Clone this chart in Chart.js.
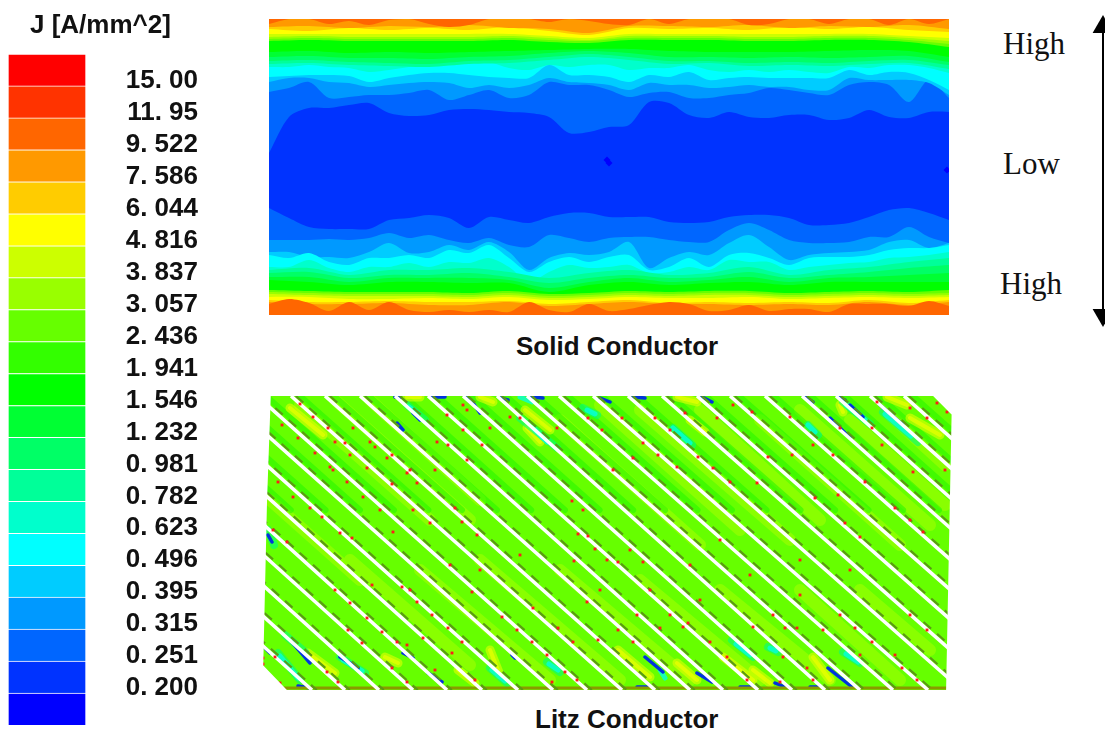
<!DOCTYPE html>
<html>
<head>
<meta charset="utf-8">
<title>Current density</title>
<script src="https://cdn.jsdelivr.net/npm/chart.js@4/dist/chart.umd.js"></script>
<style>
  html, body { margin: 0; padding: 0; background: #fff; width: 1105px; height: 733px; overflow: hidden; }
  canvas, .txt { position: absolute; }
  #legendChart { left: 0; top: 0; }
  #solidChart { left: 269px; top: 19px; filter: blur(0.6px); }
  #litzChart { left: 260px; top: 396px; filter: blur(0.5px); }
  #arrowChart { left: 1085px; top: 0; }
  .txt { white-space: nowrap; color: #111; }
  .cap { font: bold 26px "Liberation Sans", Arial, sans-serif; }
  .side { font: 31px "Liberation Serif", "Times New Roman", serif; }
</style>
</head>
<body>
<canvas id="legendChart" width="205" height="733"></canvas>
<canvas id="solidChart" width="680" height="296"></canvas>
<canvas id="litzChart" width="700" height="294"></canvas>
<canvas id="arrowChart" width="20" height="340"></canvas>
<div class="txt cap" style="left:30px;top:9px">J [A/mm^2]</div>
<div class="txt cap" style="left:516px;top:331px">Solid Conductor</div>
<div class="txt cap" style="left:535px;top:704px">Litz Conductor</div>
<div class="txt side" style="left:1003px;top:26px">High</div>
<div class="txt side" style="left:1003px;top:146px">Low</div>
<div class="txt side" style="left:1000px;top:266px">High</div>
<script>
// Colour scale, top to bottom
const legendColors = ['#ff0000', '#ff3300', '#ff6600', '#ff9900', '#ffcc00', '#ffff00', '#ccff00', '#99ff00', '#66ff00', '#33ff00', '#00ff00',
    '#00ff33', '#00ff66', '#00ff99', '#00ffcc', '#00ffff', '#00ccff', '#0099ff', '#0066ff', '#0033ff', '#0000ff'];
const legendLabels = ['15. 00', '11. 95', '9. 522', '7. 586', '6. 044', '4. 816', '3. 837', '3. 057', '2. 436', '1. 941',
    '1. 546', '1. 232', '0. 981', '0. 782', '0. 623', '0. 496', '0. 395', '0. 315', '0. 251', '0. 200'];

// Solid conductor: depth of each colour contour along the width
const fineX = [0, 20, 40, 60, 80, 100, 120, 140, 160, 180, 200, 220, 240, 260, 280, 300, 320, 340, 360, 380, 400, 420, 440, 460, 480, 500, 520, 540, 560, 580, 600, 620, 640, 660, 680];
const coarseX = [0, 40, 80, 120, 160, 200, 240, 280, 320, 360, 400, 440, 480, 520, 560, 600, 640, 680];

const topBlue1 = [134, 98, 89, 89, 86, 84, 94, 97, 96, 91, 90, 91, 93, 94, 98, 114, 113, 108, 106, 83, 84, 96, 99, 93, 98, 99, 96, 96, 101, 99, 91, 98, 99, 93, 93];
const topBlue2 = [73, 69, 63, 79, 78, 76, 76, 74, 71, 81, 76, 71, 79, 76, 63, 66, 66, 71, 78, 74, 73, 79, 79, 76, 74, 69, 71, 74, 76, 66, 63, 66, 83, 61, 79];
const topBlue3 = [63, 59, 59, 63, 64, 68, 66, 64, 63, 64, 69, 66, 69, 66, 59, 63, 64, 66, 71, 64, 66, 66, 69, 68, 66, 68, 68, 71, 71, 59, 61, 61, 61, 64, 76];
const topCyan = [58, 57, 56, 56, 57, 63, 59, 56, 54, 54, 56, 58, 59, 59, 46, 56, 56, 58, 63, 56, 58, 53, 61, 59, 58, 59, 59, 59, 59, 51, 56, 53, 54, 61, 71];
const topTeal = [48, 48, 46, 48, 49, 53, 51, 48, 46, 44, 41, 43, 49, 51, 46, 48, 46, 46, 51, 49, 49, 46, 51, 53, 51, 53, 51, 53, 54, 48, 49, 46, 46, 49, 54];
const topSpring3 = [45, 44, 46, 47, 48, 45, 44, 41, 38, 41, 45, 44, 47, 46, 47, 45, 44, 50];
const topSpring2 = [42, 41, 43, 44, 45, 42, 41, 38, 35, 38, 42, 42, 44, 43, 44, 42, 41, 46];
const topSpring1 = [38, 37, 39, 39, 40, 38, 37, 34, 32, 34, 38, 38, 39, 38, 39, 38, 37, 43];
const topGreen = [33, 32, 34, 33, 34, 33, 32, 31, 30, 30, 32, 33, 33, 33, 32, 31, 32, 38];
const topLime2 = [22, 21, 22, 22, 22, 22, 21, 23, 24, 21, 21, 21, 22, 22, 21, 21, 23, 28];
const topLime1 = [20, 19, 20, 20, 20, 20, 19, 21, 22, 19, 19, 19, 20, 20, 19, 19, 21, 25];
const topChart = [18, 17, 18, 18, 18, 18, 17, 19, 21, 17, 17, 17, 18, 18, 17, 17, 19, 22];
const topYellow = [15, 15, 15, 15, 15, 15, 15, 17, 19, 15, 15, 15, 15, 15, 15, 15, 17, 19];
const topGold = [10, 12, 9, 11, 9, 11, 8, 12, 16, 9, 10, 9, 11, 8, 10, 8, 11, 13];
const topAmber = [8, 7, 9, 7, 8, 6, 9, 10, 14, 7, 7, 8, 6, 9, 7, 8, 6, 10];
const topOrange = [5, 0, 0, 5, 2, 6, 1, 0, 5, 8, 6, 0, 0, 0, 3, 0, 2, 5, 6, 0, 5, 0, 0, 0, 6, 5, 0, 0, 5, 0, 0, 6, 0, 5, 0];

const botBlue1 = [189, 199, 208, 210, 210, 210, 201, 199, 196, 199, 209, 198, 201, 204, 198, 194, 194, 198, 198, 198, 203, 204, 203, 198, 196, 196, 199, 206, 206, 204, 198, 191, 189, 194, 201];
const botBlue2 = [221, 221, 221, 220, 221, 219, 214, 219, 216, 221, 224, 219, 226, 228, 216, 219, 223, 219, 218, 218, 221, 223, 223, 211, 204, 211, 221, 224, 224, 223, 218, 218, 208, 218, 224];
const botBlue3 = [233, 233, 238, 238, 239, 233, 224, 234, 233, 226, 231, 223, 233, 251, 239, 234, 236, 233, 223, 249, 239, 233, 236, 224, 216, 228, 241, 236, 234, 233, 231, 223, 221, 229, 224];
const botCyan = [236, 239, 234, 243, 246, 239, 239, 236, 239, 231, 234, 226, 239, 253, 243, 238, 243, 238, 236, 251, 248, 239, 248, 236, 234, 239, 246, 239, 238, 238, 236, 231, 229, 229, 226];
const botTeal = [248, 248, 241, 249, 253, 248, 248, 244, 248, 243, 244, 239, 248, 263, 253, 246, 249, 248, 246, 254, 253, 248, 251, 241, 243, 243, 251, 248, 246, 244, 243, 239, 238, 236, 233];
const botSpring3 = [251, 249, 256, 251, 251, 249, 253, 259, 254, 251, 256, 254, 248, 256, 251, 248, 243, 239];
const botSpring2 = [254, 253, 259, 256, 256, 254, 258, 264, 259, 256, 259, 258, 253, 259, 256, 253, 249, 246];
const botSpring1 = [258, 258, 263, 259, 259, 259, 261, 269, 263, 259, 263, 261, 258, 263, 259, 258, 256, 254];
const botGreen = [261, 263, 266, 263, 263, 264, 264, 273, 266, 263, 266, 264, 263, 266, 263, 263, 263, 263];
const botLime2 = [271, 272, 273, 273, 273, 274, 272, 275, 274, 272, 273, 272, 272, 274, 273, 272, 273, 271];
const botLime1 = [273, 274, 275, 275, 275, 276, 274, 277, 276, 274, 275, 274, 274, 276, 275, 274, 275, 274];
const botChart = [275, 276, 277, 277, 277, 278, 276, 279, 278, 276, 277, 276, 276, 278, 277, 276, 277, 276];
const botYellow = [278, 278, 280, 280, 279, 280, 278, 281, 280, 278, 279, 279, 278, 280, 279, 278, 279, 278];
const botGold = [281, 283, 283, 282, 283, 283, 282, 285, 283, 281, 284, 283, 284, 283, 284, 281, 284, 281];
const botAmber = [283, 285, 285, 284, 286, 286, 283, 287, 285, 283, 285, 285, 286, 285, 286, 283, 286, 283];
const botOrange = [285, 280, 284, 292, 283, 291, 283, 291, 293, 291, 293, 291, 293, 283, 291, 293, 285, 292, 290, 286, 283, 285, 292, 291, 286, 292, 290, 290, 293, 285, 285, 285, 287, 282, 287];

// Small darker spots in the solid conductor core
const coreSpotX = [338, 678, 340];
const coreSpotY = [141, 151, 144];

// Litz conductor: where each white gap meets the top and bottom edge
const gapTopX = [-15, 19, 53, 87, 121, 155, 189, 223, 257, 291, 325, 360, 395, 428, 463, 497, 527, 559, 593, 628, 662, 697, 730, 765, 802, 836, 870, 904];
const gapBottomX = [312, 345, 379, 413, 447, 482, 518, 553, 587, 622, 655, 690, 723, 758, 792, 825, 860, 893, 928, 962, 996, 1030, 1064, 1098, 1132, 1166, 1200, 1234];

// Colour patches on the strands: x1, y1, x2, y2
const tintPatches = [[300, 405, 430, 520], [335, 400, 470, 520], [370, 400, 480, 500], [560, 420, 700, 545], [600, 405, 740, 530], [640, 410, 790, 540],
    [700, 410, 820, 520], [760, 420, 900, 545], [800, 410, 930, 525], [850, 420, 945, 505], [890, 415, 945, 465], [270, 500, 360, 580],
    [350, 560, 470, 665], [420, 570, 550, 680], [480, 560, 620, 680], [560, 570, 690, 680], [640, 580, 760, 680], [720, 590, 830, 680], [800, 590, 900, 680], [860, 590, 930, 650]];
const yellowPatches = [[527, 428, 540, 442], [525, 410, 550, 430], [677, 397, 697, 402], [290, 408, 323, 435], [407, 397, 420, 397], [480, 397, 493, 402], [887, 397, 907, 405],
    [910, 418, 940, 435], [840, 405, 843, 412], [618, 650, 650, 677], [677, 663, 697, 680], [723, 657, 753, 680], [753, 670, 770, 683], [813, 657, 830, 680],
    [308, 653, 335, 673], [385, 657, 398, 663], [458, 670, 475, 683], [490, 650, 500, 675], [690, 420, 705, 432]];
const springPatches = [[520, 418, 557, 448], [583, 408, 597, 415], [407, 405, 425, 420], [808, 425, 818, 435], [843, 402, 870, 424], [883, 412, 918, 442],
    [732, 640, 753, 657], [768, 647, 778, 652], [843, 652, 860, 663], [547, 662, 560, 672], [490, 668, 507, 683], [278, 653, 300, 680], [285, 635, 305, 652], [340, 657, 365, 673], [673, 428, 692, 445], [268, 530, 274, 545]];
const cyanPatches = [[533, 428, 547, 442], [673, 428, 690, 443], [587, 410, 595, 414], [409, 407, 417, 413], [808, 425, 815, 432], [846, 405, 865, 420], [885, 414, 911, 436],
    [736, 644, 750, 655], [770, 648, 776, 651], [846, 654, 858, 662], [549, 664, 558, 670], [660, 670, 665, 678], [280, 656, 298, 678], [343, 660, 362, 671], [492, 670, 505, 681], [520, 397, 532, 402]];
const bluePatches = [[397, 423, 403, 430], [430, 397, 445, 397], [395, 397, 400, 398], [465, 397, 470, 402], [473, 403, 480, 413], [413, 413, 420, 420], [268, 535, 272, 542],
    [500, 398, 508, 400], [532, 397, 543, 398], [600, 398, 610, 402], [633, 397, 645, 398], [702, 397, 712, 402], [805, 397, 813, 402], [830, 418, 850, 438],
    [838, 397, 845, 400], [850, 405, 863, 417], [880, 405, 903, 425], [645, 657, 663, 672], [697, 673, 712, 682], [775, 683, 785, 687], [828, 668, 852, 687],
    [637, 687, 650, 687], [512, 655, 515, 658], [740, 687, 752, 687], [810, 687, 820, 687], [292, 642, 310, 663], [340, 657, 358, 668], [403, 653, 413, 658],
    [428, 673, 442, 682], [298, 686, 310, 688], [265, 648, 270, 653]];

// Red edge dots along the gaps
const redDotX = [300, 313, 328, 353, 335, 345, 282, 298, 315, 330, 350, 370, 375, 392, 367, 387, 407, 410, 417, 437, 448, 447, 463, 467, 463, 490, 482, 467, 435, 455, 430, 413, 392, 363, 347, 333, 278, 293, 310, 322, 340, 352, 380, 393, 462, 477, 287, 273,
    840, 813, 833, 882, 913, 945, 865, 838, 815, 895, 910, 845, 860, 923, 872, 877, 910, 927, 937, 947,
    510, 520, 557, 588, 602, 622, 643, 658, 633, 613, 655, 670, 685, 717, 733, 752, 790, 768, 792, 677, 698, 713, 730, 757,
    502, 517, 532, 547, 565, 577, 552, 533, 558, 573, 587, 598, 618, 633, 637, 660, 670, 683, 688, 710, 727, 747, 753, 773, 785, 797, 823, 840, 855, 872, 895, 902, 917, 910, 927, 780, 813, 783, 807, 860,
    335, 350, 367, 348, 362, 327, 338, 275, 280, 392, 407, 372, 382, 397, 407, 423, 435, 402, 417, 432, 452, 462, 475, 448, 472, 263, 263,
    572, 583, 578, 588, 595, 630, 643, 618, 607, 574, 690, 720, 750, 800, 850, 480, 520, 450, 410, 650, 700, 600, 800];
const redDotY = [404, 417, 428, 428, 442, 443, 425, 438, 453, 467, 455, 442, 447, 455, 468, 458, 473, 470, 483, 442, 445, 415, 405, 410, 430, 428, 445, 460, 470, 508, 523, 510, 484, 497, 482, 470, 482, 497, 508, 517, 533, 538, 510, 532, 522, 535, 542, 530,
    428, 445, 455, 445, 472, 470, 482, 495, 498, 508, 520, 523, 537, 532, 428, 402, 408, 418, 403, 412,
    417, 418, 428, 418, 430, 418, 443, 455, 458, 470, 418, 430, 413, 418, 405, 412, 417, 457, 455, 467, 457, 468, 482, 483,
    617, 630, 642, 655, 672, 680, 682, 608, 628, 642, 602, 640, 630, 642, 615, 628, 615, 627, 623, 642, 657, 680, 627, 615, 628, 628, 630, 615, 628, 642, 655, 668, 680, 615, 630, 682, 680, 657, 668, 655,
    590, 603, 618, 630, 643, 672, 682, 657, 683, 668, 682, 585, 632, 642, 645, 638, 670, 587, 602, 615, 653, 642, 680, 628, 592, 658, 664,
    501, 510, 534, 536, 549, 550, 562, 562, 560, 561, 565, 540, 575, 560, 570, 570, 555, 565, 590, 590, 600, 590, 595];

// Bitmap edge of the litz block and its two cut corners: x1, y1, x2, y2
const frameMask = [[264, 389, 260, 502], [260, 502, 256, 676], [258, 670, 282, 695], [262, 680, 272, 696], [936, 389, 959, 412], [950, 390, 960, 400], [959, 395, 953, 695]];
const arrowY = [27, 315];

const chartDefaults = {
    responsive: false,
    animation: false,
    events: [],
    layout: { autoPadding: false, padding: 0 },
    plugins: { legend: { display: false }, tooltip: { enabled: false } }
};

// Legend bar
new Chart(document.getElementById('legendChart'), {
    type: 'bar',
    data: {
        labels: ['J'],
        datasets: legendColors.slice().reverse().map(color => ({
            data: [1],
            backgroundColor: color,
            borderColor: '#ffffff',
            borderWidth: 1,
            barPercentage: 1,
            categoryPercentage: 1
        }))
    },
    options: {
        ...chartDefaults,
        layout: { autoPadding: false, padding: { left: 8, top: 54, bottom: 8, right: 7 } },
        scales: {
            x: { stacked: true, display: false },
            y: {
                stacked: true,
                position: 'right',
                min: 0,
                max: legendColors.length,
                afterFit: scale => {
                    scale.width = 112;
                    scale.paddingTop = 0;
                    scale.paddingBottom = 0;
                },
                grid: { display: false },
                border: { display: false },
                ticks: {
                    stepSize: 1,
                    autoSkip: false,
                    crossAlign: 'far',
                    padding: 0,
                    labelOffset: -5,
                    color: '#111111',
                    font: { family: '"Liberation Sans", Arial, sans-serif', size: 26, weight: 'bold' },
                    callback: value => legendLabels[legendColors.length - 1 - value] || ''
                }
            }
        }
    }
});

// Solid conductor contours
function contour(xs, depths, color, edge) {
    return {
        data: xs.map((x, i) => ({ x: x, y: depths[i] })),
        backgroundColor: color,
        fill: { value: edge },
        borderWidth: 0,
        pointRadius: 0,
        tension: 0.3
    };
}

const solidLayers = [
    contour(fineX, fineX.map(() => 296), '#0033ff', 0),
    contour(fineX, topBlue1, '#0066ff', 0),
    contour(fineX, topBlue2, '#0099ff', 0),
    contour(fineX, topBlue3, '#00ccff', 0),
    contour(fineX, topCyan, '#00ffff', 0),
    contour(fineX, topTeal, '#00ffcc', 0),
    contour(coarseX, topSpring3, '#00ff99', 0),
    contour(coarseX, topSpring2, '#00ff66', 0),
    contour(coarseX, topSpring1, '#00ff33', 0),
    contour(coarseX, topGreen, '#00ff00', 0),
    contour(coarseX, topLime2, '#66ff00', 0),
    contour(coarseX, topLime1, '#99ff00', 0),
    contour(coarseX, topChart, '#ccff00', 0),
    contour(coarseX, topYellow, '#ffff00', 0),
    contour(coarseX, topGold, '#ffcc00', 0),
    contour(coarseX, topAmber, '#ff9900', 0),
    contour(fineX, topOrange, '#ff6600', 0),
    contour(fineX, botBlue1, '#0066ff', 296),
    contour(fineX, botBlue2, '#0099ff', 296),
    contour(fineX, botBlue3, '#00ccff', 296),
    contour(fineX, botCyan, '#00ffff', 296),
    contour(fineX, botTeal, '#00ffcc', 296),
    contour(coarseX, botSpring3, '#00ff99', 296),
    contour(coarseX, botSpring2, '#00ff66', 296),
    contour(coarseX, botSpring1, '#00ff33', 296),
    contour(coarseX, botGreen, '#00ff00', 296),
    contour(coarseX, botLime2, '#66ff00', 296),
    contour(coarseX, botLime1, '#99ff00', 296),
    contour(coarseX, botChart, '#ccff00', 296),
    contour(coarseX, botYellow, '#ffff00', 296),
    contour(coarseX, botGold, '#ffcc00', 296),
    contour(coarseX, botAmber, '#ff9900', 296),
    contour(fineX, botOrange, '#ff6600', 296),
    {
        data: coreSpotX.map((x, i) => ({ x: x, y: coreSpotY[i] })),
        showLine: false,
        pointStyle: 'rectRot',
        pointRadius: 3.5,
        pointBorderWidth: 0,
        pointBackgroundColor: '#0000ff'
    }
];

new Chart(document.getElementById('solidChart'), {
    type: 'line',
    // first dataset is drawn on top, so hand them over reversed
    data: { datasets: solidLayers.slice().reverse() },
    options: {
        ...chartDefaults,
        scales: {
            x: { type: 'linear', min: 0, max: 680, display: false },
            y: { min: 0, max: 296, reverse: true, display: false }
        }
    }
});

// Litz conductor strands
function segments(list) {
    return list.flatMap(s => [{ x: s[0], y: s[1] }, { x: s[2], y: s[3] }, { x: s[2], y: null }]);
}

function stroke(data, color, width, extra) {
    return {
        data: data,
        borderColor: color,
        borderWidth: width,
        borderCapStyle: 'round',
        pointRadius: 0,
        spanGaps: false,
        clip: 0,
        ...extra
    };
}

function gapLines(shift, bottomY) {
    return gapTopX.flatMap((top, i) => {
        const slope = (gapBottomX[i] - top) / 294;
        return [{ x: top + shift, y: 396 }, { x: top + shift + slope * (bottomY - 396), y: bottomY }, { x: top, y: null }];
    });
}

const litzLayers = [
    { data: [{ x: 260, y: 690 }, { x: 960, y: 690 }], backgroundColor: '#66ff00', fill: { value: 396 }, borderWidth: 0, pointRadius: 0 },
    stroke(segments(tintPatches), 'rgba(160,255,0,0.6)', 12),
    stroke(gapLines(9, 510), 'rgba(34,245,0,0.55)', 6),
    stroke(segments(yellowPatches), 'rgba(225,255,0,0.6)', 9),
    stroke(segments(yellowPatches), 'rgba(255,255,0,0.5)', 4),
    stroke(segments(springPatches), 'rgba(0,255,120,0.6)', 8),
    stroke(segments(cyanPatches), 'rgba(0,255,235,0.75)', 5),
    stroke(segments(bluePatches), '#0033dd', 3.5),
    stroke([{ x: 260, y: 688 }, { x: 960, y: 688 }], '#8a9a00', 3),
    stroke(gapLines(4.8, 690), '#5a9a14', 2.2, { borderDash: [10, 8], borderCapStyle: 'butt' }),
    stroke(gapLines(0, 690), '#ffffff', 3.5, { borderCapStyle: 'butt' }),
    {
        data: redDotX.map((x, i) => ({ x: x, y: redDotY[i] })),
        showLine: false,
        pointStyle: 'rect',
        pointRadius: 2,
        pointBorderWidth: 0,
        pointBackgroundColor: '#ff1a1a',
        clip: 0
    },
    stroke(segments(frameMask), '#ffffff', 14, { borderCapStyle: 'butt' })
];

new Chart(document.getElementById('litzChart'), {
    type: 'line',
    data: { datasets: litzLayers.slice().reverse() },
    options: {
        ...chartDefaults,
        scales: {
            x: { type: 'linear', min: 260, max: 960, display: false },
            y: { min: 396, max: 690, reverse: true, display: false }
        }
    }
});

// Double headed arrow on the right
new Chart(document.getElementById('arrowChart'), {
    type: 'line',
    data: {
        datasets: [{
            data: arrowY.map(y => ({ x: 0, y: y })),
            borderColor: '#000000',
            borderWidth: 2,
            pointStyle: 'triangle',
            pointRadius: 12,
            pointRotation: [0, 180],
            pointBorderWidth: 0,
            pointBackgroundColor: '#000000',
            clip: false
        }]
    },
    options: {
        ...chartDefaults,
        scales: {
            x: { type: 'linear', min: -18, max: 2, display: false },
            y: { min: 0, max: 340, reverse: true, display: false }
        }
    }
});
</script>
</body>
</html>
